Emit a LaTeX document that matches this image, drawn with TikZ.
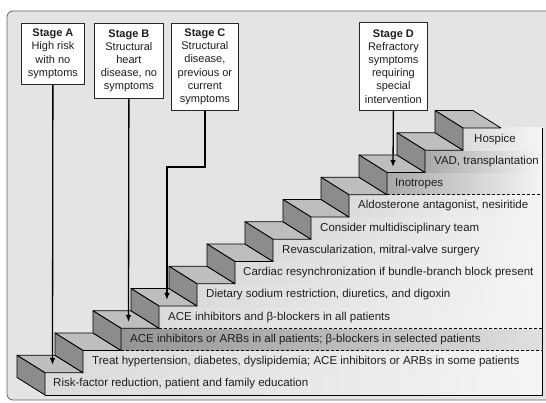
\documentclass[tikz,border=0pt]{standalone}
\usepackage{fontspec}
\setmainfont{Liberation Sans}
\usetikzlibrary{arrows.meta}
\definecolor{bgc}{HTML}{E4E4E4}
\definecolor{treadc}{HTML}{BEBEBE}
\definecolor{riserc}{HTML}{8C8C8C}
\definecolor{txtc}{HTML}{1E1E1E}
\begin{document}
\begin{tikzpicture}[x=1pt,y=-1pt,
  stagebox/.style={draw=black!85, fill=white, line width=0.8pt, align=center, anchor=north west, inner sep=0pt, font=\fontsize{11}{13.2}\selectfont, text=txtc},
  rowtext/.style={anchor=west, font=\fontsize{11.5}{13}\selectfont, text=txtc, inner sep=0pt},
  arr/.style={line width=1.3pt, -{Latex[length=7pt,width=5.5pt]}},
  stairline/.style={line width=0.8pt, line join=round, draw=black},
  rowshade/.style={left color=black!14, right color=black!4},
  darkshade/.style={left color=black!42, right color=black!12},
  midshade/.style={left color=black!34, right color=black!4},
  sepline/.style={line width=0.6pt, dash pattern=on 3pt off 2pt}]

\useasboundingbox (0,0) rectangle (546,403);
\fill[white] (0,0) rectangle (546,403);
\draw[fill=bgc, draw=black!60, line width=0.8pt, rounded corners=6pt] (7,11) rectangle (560,400);

% front (text) faces, one rectangle per step
\foreach \k in {1,...,12} {
  \pgfmathsetmacro\xx{45+38*(\k-1)}
  \pgfmathsetmacro\tt{395-22.25*\k}
  \pgfmathsetmacro\tb{395-22.25*(\k-1)}
  \ifnum\k=3 \def\sh{darkshade}\else
    \ifnum\k=10 \def\sh{midshade}\else
      \ifnum\k=11 \def\sh{midshade}\else \def\sh{rowshade}\fi\fi\fi
  \shade[\sh] (\xx,\tb) rectangle (542,\tt);
}

% separators
\draw[sepline] (121,350.5) -- (542,350.5);
\draw[sepline] (159,328.25) -- (542,328.25);
\draw[sepline] (387,194.75) -- (542,194.75);

% treads and risers
\foreach \k in {1,...,12} {
  \pgfmathsetmacro\xx{45+38*(\k-1)}
  \pgfmathsetmacro\xn{min(45+38*\k,542)}
  \pgfmathsetmacro\tt{395-22.25*\k}
  \pgfmathsetmacro\tb{395-22.25*(\k-1)}
  \filldraw[stairline, fill=treadc] (\xx,\tt) -- (\xn,\tt) -- ++(-28,-17.5) -- ({\xx-28},{\tt-17.5}) -- cycle;
  \filldraw[stairline, fill=riserc] (\xx,\tt) -- (\xx,\tb) -- ++(-28,-17.5) -- ({\xx-28},{\tt-17.5}) -- cycle;
}
\draw[stairline] (45,395) -- (542,395) -- (542,128);

% row texts
\node[rowtext] (r1) at (53,384) {Risk-factor reduction, patient and family education};
\node[rowtext] (r2) at (92,361.6) {Treat hypertension, diabetes, dyslipidemia; ACE inhibitors or ARBs in some patients};
\node[rowtext] (r3) at (130,339.4) {ACE inhibitors or ARBs in all patients; β-blockers in selected patients};
\node[rowtext] (r4) at (168,317.1) {ACE inhibitors and β-blockers in all patients};
\node[rowtext] (r5) at (206,294.9) {Dietary sodium restriction, diuretics, and digoxin};
\node[rowtext] (r6) at (243,272.6) {Cardiac resynchronization if bundle-branch block present};
\node[rowtext] (r7) at (282,250.4) {Revascularization, mitral-valve surgery};
\node[rowtext] (r8) at (320,228.1) {Consider multidisciplinary team};
\node[rowtext] (r9) at (358,205.9) {Aldosterone antagonist, nesiritide};
\node[rowtext] (r10) at (395,183.6) {Inotropes};
\node[rowtext] (r11) at (434,161.4) {VAD, transplantation};
\node[rowtext] (r12) at (474,139.1) {Hospice};

% stage boxes
\node[stagebox, minimum width=63pt, minimum height=61pt] (A) at (21,23) {\textbf{Stage A}\\High risk\\with no\\symptoms};
\node[stagebox, minimum width=69pt, minimum height=75pt] (B) at (94,23) {\textbf{Stage B}\\Structural\\heart\\disease, no\\symptoms};
\node[stagebox, minimum width=67pt, minimum height=87pt] (C) at (171,23) {\textbf{Stage C}\\Structural\\disease,\\previous or\\current\\symptoms};
\node[stagebox, minimum width=68pt, minimum height=88pt] (D) at (359,22) {\textbf{Stage D}\\Refractory\\symptoms\\requiring\\special\\intervention};

% connectors
\coordinate (aT) at (52.5,365);
\coordinate (bT) at (128.5,322);
\coordinate (cK) at (167,167);
\coordinate (cT) at (167,300);
\coordinate (dT) at (393,167);
\draw[arr] (A.south) -- (aT);
\draw[arr] (B.south) -- (bT);
\draw[arr] (C.south) |- (cK) -- (cT);
\draw[arr] (D.south) -- (dT);
\end{tikzpicture}
\end{document}
